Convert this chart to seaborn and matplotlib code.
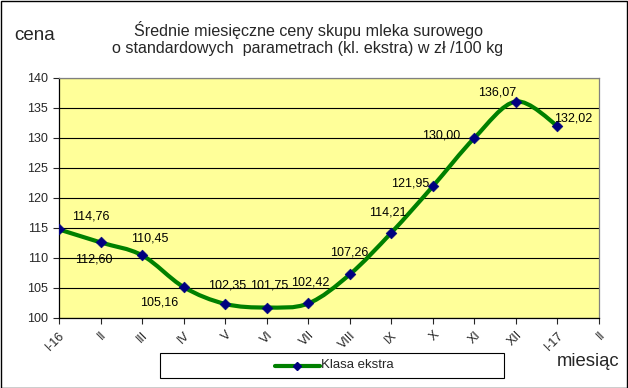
import matplotlib
matplotlib.use("Agg")
import matplotlib.pyplot as plt
import seaborn as sns
import pandas as pd
import numpy as np
from matplotlib.path import Path
from matplotlib.patches import PathPatch, Rectangle
from matplotlib.lines import Line2D

months = ["I-16", "II", "III", "IV", "V", "VI", "VII", "VIII", "IX", "X", "XI", "XII", "I-17"]
tick_labels = months + ["II"]
prices = [114.76, 112.60, 110.45, 105.16, 102.35, 101.75, 102.42, 107.26, 114.21, 121.95, 130.00, 136.07, 132.02]
labels = ["114,76", "112,60", "110,45", "105,16", "102,35", "101,75", "102,42",
          "107,26", "114,21", "121,95", "130,00", "136,07", "132,02"]
# label offsets in pixels (dx, dy)
offsets = [(32, 13), (-7, -17), (8, 17), (-24, -15), (2, 18), (2, 22), (2, 21),
           (-1, 22), (-3, 20), (-23, 3), (-33, 3), (-19, 9), (16, 7)]

sns.set_theme(style="white")
plt.rcParams['font.family'] = ['Liberation Sans', 'DejaVu Sans']

fig = plt.figure(figsize=(6.28, 3.88), dpi=100)
W, H = 628, 388
ax = fig.add_axes([59 / W, 1 - 318 / H, 540 / W, 240 / H])
ax.set_facecolor("#FFFF99")

df = pd.DataFrame({"x": np.arange(len(months)), "y": prices})

# smooth curve (Catmull-Rom -> cubic Bezier) through the data points
xs = df["x"].to_numpy(float)
ys = df["y"].to_numpy(float)
verts = [(xs[0], ys[0])]
codes = [Path.MOVETO]
n = len(xs)
for i in range(n - 1):
    p0 = np.array([xs[max(i - 1, 0)], ys[max(i - 1, 0)]])
    p1 = np.array([xs[i], ys[i]])
    p2 = np.array([xs[i + 1], ys[i + 1]])
    p3 = np.array([xs[min(i + 2, n - 1)], ys[min(i + 2, n - 1)]])
    c1 = p1 + (p2 - p0) / 6.0
    c2 = p2 - (p3 - p1) / 6.0
    verts += [tuple(c1), tuple(c2), tuple(p2)]
    codes += [Path.CURVE4] * 3
ax.add_patch(PathPatch(Path(verts, codes), facecolor="none", edgecolor="#008000",
                       lw=3.0, capstyle="round", joinstyle="round", zorder=3))

sns.scatterplot(data=df, x="x", y="y", marker="D", s=30, color="#000080",
                edgecolor="#000080", ax=ax, zorder=4, legend=False)

for xi, yi, lab, (dx, dy) in zip(xs, ys, labels, offsets):
    ax.annotate(lab, (xi, yi), xytext=(dx, dy), textcoords="offset pixels",
                ha="center", va="center", fontsize=9, color="black", zorder=5)

ax.set_xlim(0, 13)
ax.set_ylim(100, 140)
ax.set_yticks(range(100, 141, 5))
ax.set_xticks(range(14))
ax.set_xticklabels(tick_labels, rotation=45, ha="right", rotation_mode="anchor", fontsize=9)
ax.tick_params(axis="y", labelsize=9, length=4, width=0.8, direction="out", left=True, pad=4)
ax.tick_params(axis="x", length=4, width=0.8, direction="out", bottom=True, pad=4)
ax.grid(axis="y", color="black", lw=0.8)
ax.grid(axis="x", visible=False)
ax.set_axisbelow(True)
ax.set_xlabel("")
ax.set_ylabel("")
for side in ["left", "bottom"]:
    ax.spines[side].set_color("black")
    ax.spines[side].set_linewidth(0.9)
for side in ["top", "right"]:
    ax.spines[side].set_color("#808080")
    ax.spines[side].set_linewidth(0.9)

fig.text(309 / W, 1 - 30 / H, "Średnie miesięczne ceny skupu mleka surowego",
         ha="center", va="center", fontsize=11.6)
fig.text(308 / W, 1 - 48 / H, "o standardowych  parametrach (kl. ekstra) w zł /100 kg",
         ha="center", va="center", fontsize=11.6)
fig.text(14 / W, 1 - 36 / H, "cena", ha="left", va="center", fontsize=13.5)
fig.text(619 / W, 1 - 362 / H, "miesiąc", ha="right", va="center", fontsize=13.3)

# legend box
fig.patches.append(Rectangle((160 / W, 1 - 378 / H), 344 / W, 25 / H, transform=fig.transFigure,
                             facecolor="white", edgecolor="black", lw=0.8))
fig.lines.append(Line2D([275 / W, 320 / W], [1 - 365.5 / H] * 2, transform=fig.transFigure,
                        color="#008000", lw=3.0))
fig.lines.append(Line2D([297 / W], [1 - 365.5 / H], transform=fig.transFigure, marker="D",
                        markersize=4.5, color="#000080"))
fig.text(321 / W, 1 - 365.5 / H, "Klasa ekstra", ha="left", va="center", fontsize=9.5)

# outer frame
fig.patches.append(Rectangle((0.5 / W, 0.5 / H), 1 - 1.5 / W, 1 - 1.5 / H, transform=fig.transFigure,
                             facecolor="none", edgecolor="black", lw=1))

fig.savefig("out.png", dpi=100)
